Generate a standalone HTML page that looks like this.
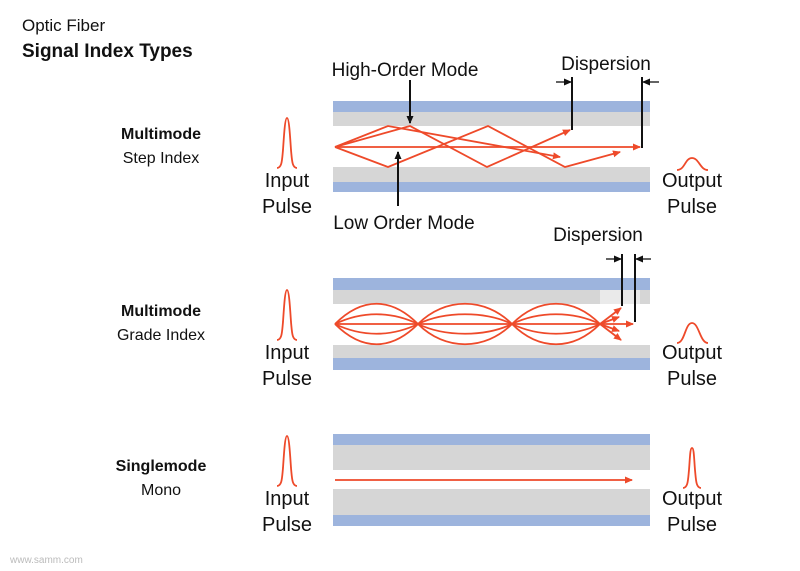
<!DOCTYPE html>
<html><head><style>
html,body{margin:0;padding:0;background:#fff}
svg{display:block}
text{font-family:"Liberation Sans",Arial,sans-serif;fill:#111}
</style></head><body>
<svg width="800" height="571" viewBox="0 0 800 571" xmlns="http://www.w3.org/2000/svg">
<defs>
<marker id="ar" markerWidth="8" markerHeight="8" refX="7" refY="4" orient="auto" markerUnits="userSpaceOnUse"><path d="M0,0.5 L8,4 L0,7.5 Z" fill="#ee4a2a"/></marker>
<marker id="ak" markerWidth="8" markerHeight="8" refX="7" refY="4" orient="auto" markerUnits="userSpaceOnUse"><path d="M0,0.5 L8,4 L0,7.5 Z" fill="#111"/></marker>
</defs>

<text x="22" y="31" font-size="17">Optic Fiber</text>
<text x="22" y="57" font-size="19" font-weight="bold">Signal Index Types</text>

<!-- Fiber 1 -->
<rect x="333" y="101" width="317" height="11" fill="#9db4dd"/>
<rect x="333" y="112" width="317" height="14" fill="#d6d6d6"/>
<rect x="333" y="167" width="317" height="15" fill="#d6d6d6"/>
<rect x="333" y="182" width="317" height="10" fill="#9db4dd"/>
<g stroke="#ee4a2a" stroke-width="1.8" fill="none" stroke-linejoin="miter">
<polyline points="335,147 388,126 560,157" marker-end="url(#ar)"/>
<polyline points="335,147 388,167 488,126 565,167 620,152" marker-end="url(#ar)"/>
<polyline points="335,147 410,126 487,167 570,130" marker-end="url(#ar)"/>
<line x1="335" y1="147" x2="640" y2="147" marker-end="url(#ar)"/>
</g>
<g stroke="#111" stroke-width="2">
<line x1="572" y1="77" x2="572" y2="130"/>
<line x1="642" y1="77" x2="642" y2="148"/>
<line x1="410" y1="80" x2="410" y2="123" marker-end="url(#ak)"/>
<line x1="398" y1="206" x2="398" y2="152" marker-end="url(#ak)"/>
</g>
<g stroke="#111" stroke-width="1.3">
<line x1="556" y1="82" x2="571" y2="82" marker-end="url(#ak)"/>
<line x1="659" y1="82" x2="643" y2="82" marker-end="url(#ak)"/>
</g>
<text x="405" y="76" font-size="19" text-anchor="middle">High-Order Mode</text>
<text x="606" y="70" font-size="19" text-anchor="middle">Dispersion</text>
<text x="404" y="229" font-size="19" text-anchor="middle">Low Order Mode</text>
<text x="161" y="139" font-size="16" font-weight="bold" text-anchor="middle">Multimode</text>
<text x="161" y="163" font-size="16" text-anchor="middle">Step Index</text>
<path d="M277,168 C282,168 282,160 283,150 C284,135 285,118 287,118 C289,118 290,135 291,150 C292,160 292,168 297,168" stroke="#ee4a2a" stroke-width="1.8" fill="none"/>
<text x="287" y="187" font-size="20" text-anchor="middle">Input</text>
<text x="287" y="213" font-size="20" text-anchor="middle">Pulse</text>
<path d="M677,170 C685,170 685,158 692,158 C699,158 700,170 708,170" stroke="#ee4a2a" stroke-width="1.8" fill="none"/>
<text x="692" y="187" font-size="20" text-anchor="middle">Output</text>
<text x="692" y="213" font-size="20" text-anchor="middle">Pulse</text>

<!-- Fiber 2 -->
<rect x="333" y="278" width="317" height="12" fill="#9db4dd"/>
<rect x="333" y="290" width="317" height="14" fill="#d6d6d6"/>
<rect x="333" y="345" width="317" height="13" fill="#d6d6d6"/>
<rect x="333" y="358" width="317" height="12" fill="#9db4dd"/>
<rect x="600" y="290" width="40" height="14" fill="#eaeaea"/>
<g stroke="#ee4a2a" stroke-width="1.8" fill="none">
<path d="M335,324 C362,297 391,297 418,324 C445,297 485,297 512,324 C539,297 573,297 600,324"/>
<path d="M335,324 C362,351 391,351 418,324 C445,351 485,351 512,324 C539,351 573,351 600,324"/>
<path d="M335,324 C362,311 391,311 418,324 C445,311 485,311 512,324 C539,311 573,311 600,324"/>
<path d="M335,324 C362,337 391,337 418,324 C445,337 485,337 512,324 C539,337 573,337 600,324"/>
<line x1="335" y1="324" x2="600" y2="324"/>
<line x1="600" y1="324" x2="621" y2="308" marker-end="url(#ar)"/>
<line x1="600" y1="324" x2="619" y2="317" marker-end="url(#ar)"/>
<line x1="600" y1="324" x2="633" y2="324" marker-end="url(#ar)"/>
<line x1="600" y1="324" x2="619" y2="331" marker-end="url(#ar)"/>
<line x1="600" y1="324" x2="621" y2="340" marker-end="url(#ar)"/>
</g>
<g stroke="#111" stroke-width="2">
<line x1="622" y1="254" x2="622" y2="306"/>
<line x1="635" y1="254" x2="635" y2="322"/>
</g>
<g stroke="#111" stroke-width="1.3">
<line x1="606" y1="259" x2="621" y2="259" marker-end="url(#ak)"/>
<line x1="651" y1="259" x2="636" y2="259" marker-end="url(#ak)"/>
</g>
<text x="598" y="241" font-size="19" text-anchor="middle">Dispersion</text>
<text x="161" y="316" font-size="16" font-weight="bold" text-anchor="middle">Multimode</text>
<text x="161" y="340" font-size="16" text-anchor="middle">Grade Index</text>
<path d="M277,340 C282,340 282,332 283,322 C284,307 285,290 287,290 C289,290 290,307 291,322 C292,332 292,340 297,340" stroke="#ee4a2a" stroke-width="1.8" fill="none"/>
<text x="287" y="359" font-size="20" text-anchor="middle">Input</text>
<text x="287" y="385" font-size="20" text-anchor="middle">Pulse</text>
<path d="M677,343 C685,343 685,323 692,323 C699,323 700,343 708,343" stroke="#ee4a2a" stroke-width="1.8" fill="none"/>
<text x="692" y="359" font-size="20" text-anchor="middle">Output</text>
<text x="692" y="385" font-size="20" text-anchor="middle">Pulse</text>

<!-- Fiber 3 -->
<rect x="333" y="434" width="317" height="11" fill="#9db4dd"/>
<rect x="333" y="445" width="317" height="25" fill="#d6d6d6"/>
<rect x="333" y="489" width="317" height="26" fill="#d6d6d6"/>
<rect x="333" y="515" width="317" height="11" fill="#9db4dd"/>
<line x1="335" y1="480" x2="632" y2="480" stroke="#ee4a2a" stroke-width="1.8" marker-end="url(#ar)"/>
<text x="161" y="471" font-size="16" font-weight="bold" text-anchor="middle">Singlemode</text>
<text x="161" y="495" font-size="16" text-anchor="middle">Mono</text>
<path d="M277,486 C282,486 282,478 283,468 C284,453 285,436 287,436 C289,436 290,453 291,468 C292,478 292,486 297,486" stroke="#ee4a2a" stroke-width="1.8" fill="none"/>
<text x="287" y="505" font-size="20" text-anchor="middle">Input</text>
<text x="287" y="531" font-size="20" text-anchor="middle">Pulse</text>
<path d="M683,488 C688,488 688,480 689,470 C690,458 690,448 692,448 C694,448 694,458 695,470 C696,480 696,488 701,488" stroke="#ee4a2a" stroke-width="1.8" fill="none"/>
<text x="692" y="505" font-size="20" text-anchor="middle">Output</text>
<text x="692" y="531" font-size="20" text-anchor="middle">Pulse</text>

<text x="10" y="563" font-size="10" style="fill:#bbb">www.samm.com</text>
</svg>
</body></html>
